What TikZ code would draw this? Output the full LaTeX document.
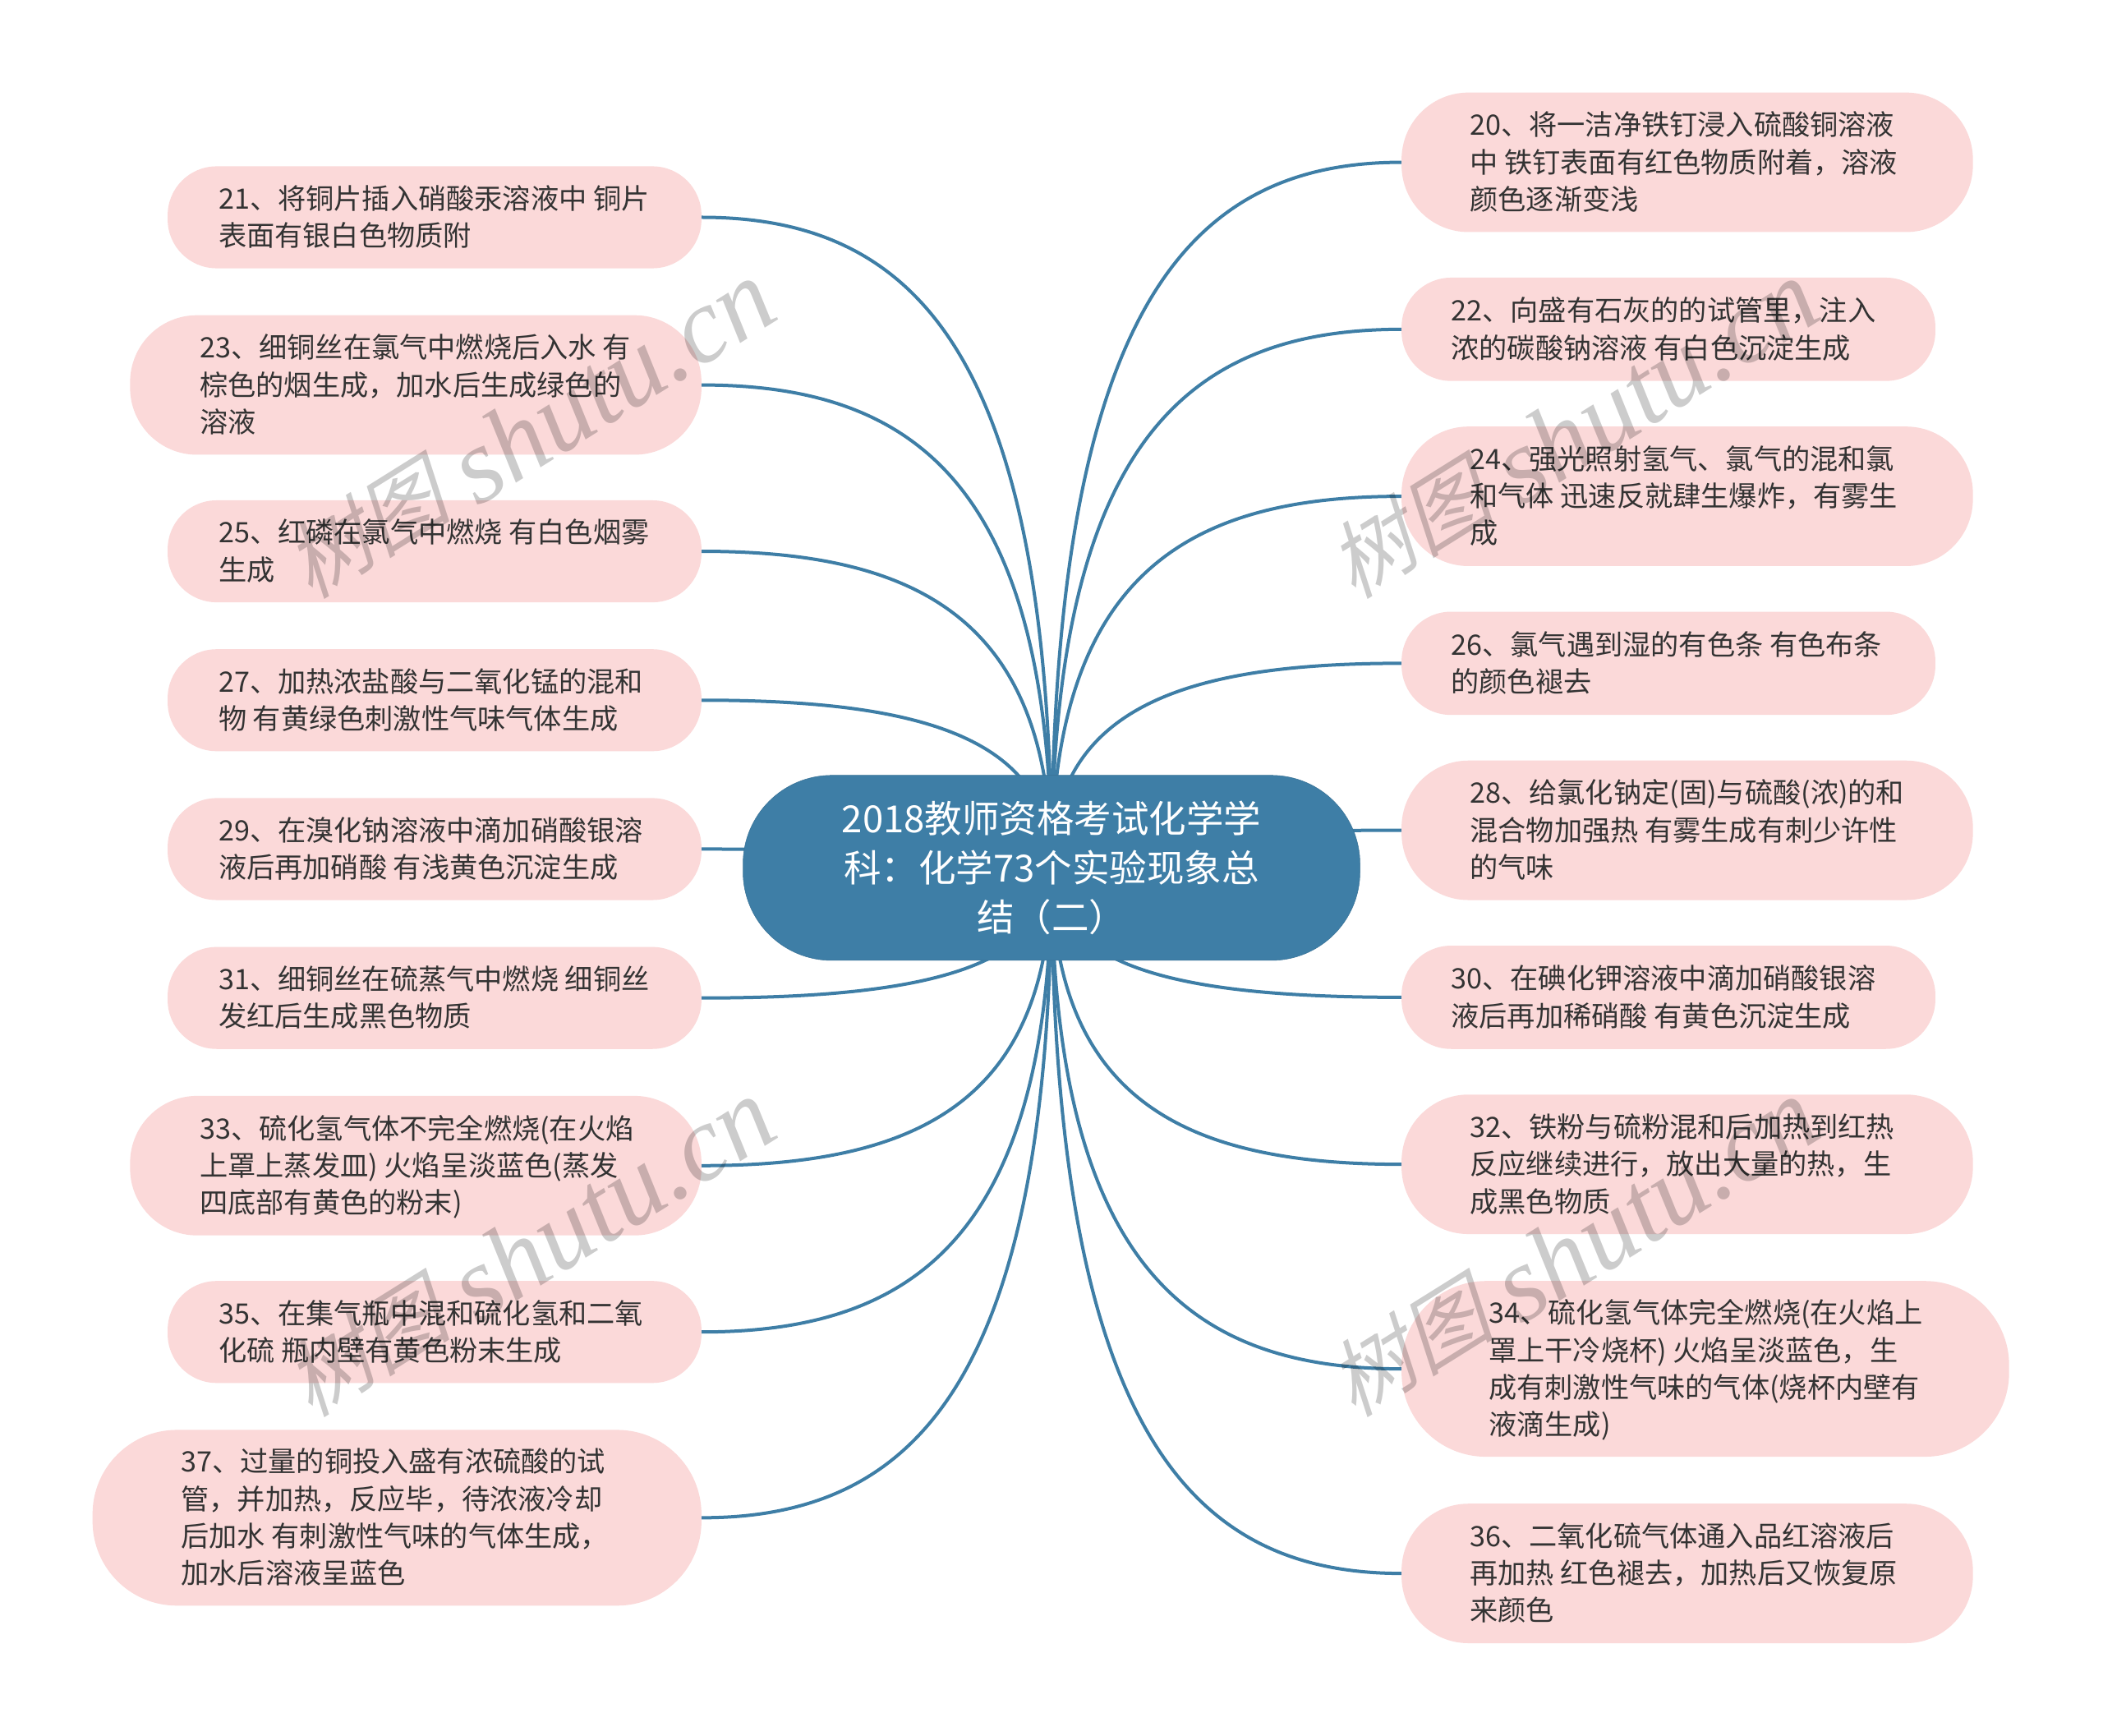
\documentclass[tikz,border=0pt]{standalone}
\usepackage{fontspec}
\setmainfont{Noto Sans CJK SC}
\newfontfamily\wmcjk[FakeSlant=0.25]{Noto Sans CJK SC}
\newfontfamily\wmlat{Liberation Serif}
\usetikzlibrary{backgrounds,calc}
\definecolor{pillfill}{HTML}{FBD9D9}
\definecolor{rootfill}{HTML}{3E7EA6}
\definecolor{bodytext}{HTML}{333333}
\tikzset{
  pill/.style={fill=pillfill,draw=none,inner sep=0pt,text=bodytext,
    font=\fontsize{34.2}{45.3}\selectfont},
  rootpill/.style={fill=rootfill,draw=rootfill!90!black,line width=.5pt,inner sep=0pt,align=center,text=white,
    font=\fontsize{45.5}{60}\selectfont},
  link/.style={draw=rootfill,line width=4pt},
  wmark/.style={text=black,text opacity=.2,rotate=32,inner sep=0pt}
}
% \pillnode{name}{x1}{x2}{y1}{y2}{left pad}{text}  (coordinates as in the 1568-wide view)
\newcommand\pillnode[7]{%
  \pgfmathsetlengthmacro\pillw{(#3-#2)*1.6327pt}%
  \pgfmathsetlengthmacro\pillh{(#5-#4)*1.6327pt}%
  \pgfmathsetlengthmacro\pillpad{#6*1.6327pt}%
  \pgfmathsetlengthmacro\pillr{0.48*\pillh}%
  \node[pill,rounded corners=\pillr,minimum width=\pillw,minimum height=\pillh]
    (#1) at ({(#2+#3)/2},{(#4+#5)/2})
    {\vbox{\kern7pt\hbox{\makebox[\pillw][l]{\hspace*{\pillpad}\begin{tabular}{@{}l@{}}#7\end{tabular}}}}};}
% connector from the root's centre to a pill's side
\newcommand\linkto[2]{%
  \draw[link] let \p1=(root.center),\p2=(#1.#2) in
    (\p1) .. controls (\x1,{\y2+0.2*(\y1-\y2)}) and ({\x1+0.4*(\x2-\x1)},\y2) .. (\p2);}
\newcommand\wmtext{\raisebox{12pt}{\fontsize{102}{110}\wmcjk 树图}\hspace{28pt}{\fontsize{130}{130}\wmlat\itshape shutu.cn}}
\begin{document}
\begin{tikzpicture}[x=1.6327pt,y=-1.6327pt]
\useasboundingbox (0,0) rectangle (1568,1293.6);
\pgfmathsetlengthmacro\rootw{460*1.6327pt}
\pgfmathsetlengthmacro\rooth{138*1.6327pt}
\pgfmathsetlengthmacro\rootr{0.48*\rooth}
\node[rootpill,rounded corners=\rootr,minimum width=\rootw,minimum height=\rooth] (root) at (784,647)
  {2018教师资格考试化学学\\科：化学73个实验现象总\\结（二）};
% left column
\pillnode{n21}{125}{523}{124}{200}{38}{21、将铜片插入硝酸汞溶液中 铜片\\表面有银白色物质附}
\pillnode{n23}{97}{523}{235}{339}{52}{23、细铜丝在氯气中燃烧后入水 有\\棕色的烟生成，加水后生成绿色的\\溶液}
\pillnode{n25}{125}{523}{373}{449}{38}{25、红磷在氯气中燃烧 有白色烟雾\\生成}
\pillnode{n27}{125}{523}{484}{560}{38}{27、加热浓盐酸与二氧化锰的混和\\物 有黄绿色刺激性气味气体生成}
\pillnode{n29}{125}{523}{595}{671}{38}{29、在溴化钠溶液中滴加硝酸银溶\\液后再加硝酸 有浅黄色沉淀生成}
\pillnode{n31}{125}{523}{706}{782}{38}{31、细铜丝在硫蒸气中燃烧 细铜丝\\发红后生成黑色物质}
\pillnode{n33}{97}{523}{817}{921}{52}{33、硫化氢气体不完全燃烧(在火焰\\上罩上蒸发皿) 火焰呈淡蓝色(蒸发\\四底部有黄色的粉末)}
\pillnode{n35}{125}{523}{955}{1031}{38}{35、在集气瓶中混和硫化氢和二氧\\化硫 瓶内壁有黄色粉末生成}
\pillnode{n37}{69}{523}{1066}{1197}{66}{37、过量的铜投入盛有浓硫酸的试\\管，并加热，反应毕，待浓液冷却\\后加水 有刺激性气味的气体生成，\\加水后溶液呈蓝色}
% right column
\pillnode{n20}{1045}{1471}{69}{173}{51}{20、将一洁净铁钉浸入硫酸铜溶液\\中 铁钉表面有红色物质附着，溶液\\颜色逐渐变浅}
\pillnode{n22}{1045}{1443}{207}{284}{37}{22、向盛有石灰的的试管里，注入\\浓的碳酸钠溶液 有白色沉淀生成}
\pillnode{n24}{1045}{1471}{318}{422}{51}{24、强光照射氢气、氯气的混和氯\\和气体 迅速反就肆生爆炸，有雾生\\成}
\pillnode{n26}{1045}{1443}{456}{533}{37}{26、氯气遇到湿的有色条 有色布条\\的颜色褪去}
\pillnode{n28}{1045}{1471}{567}{671}{51}{28、给氯化钠定(固)与硫酸(浓)的和\\混合物加强热 有雾生成有刺少许性\\的气味}
\pillnode{n30}{1045}{1443}{705}{782}{37}{30、在碘化钾溶液中滴加硝酸银溶\\液后再加稀硝酸 有黄色沉淀生成}
\pillnode{n32}{1045}{1471}{816}{920}{51}{32、铁粉与硫粉混和后加热到红热\\反应继续进行，放出大量的热，生\\成黑色物质}
\pillnode{n34}{1045}{1498}{955}{1086}{65}{34、硫化氢气体完全燃烧(在火焰上\\罩上干冷烧杯) 火焰呈淡蓝色，生\\成有刺激性气味的气体(烧杯内壁有\\液滴生成)}
\pillnode{n36}{1045}{1471}{1121}{1225}{51}{36、二氧化硫气体通入品红溶液后\\再加热 红色褪去，加热后又恢复原\\来颜色}
% connectors behind the nodes
\begin{scope}[on background layer]
\fill[white] (0,0) rectangle (1568,1293.6);
\foreach \pillname in {n21,n23,n25,n27,n29,n31,n33,n35,n37} {\linkto{\pillname}{east}}
\foreach \pillname in {n20,n22,n24,n26,n28,n30,n32,n34,n36} {\linkto{\pillname}{west}}
\end{scope}
% watermarks
\node[wmark] (w1) at (394,320) {\wmtext};
\node[wmark] (w2) at (1172,320) {\wmtext};
\node[wmark] (w3) at (394,930) {\wmtext};
\node[wmark] (w4) at (1172,930) {\wmtext};
\end{tikzpicture}
\end{document}
